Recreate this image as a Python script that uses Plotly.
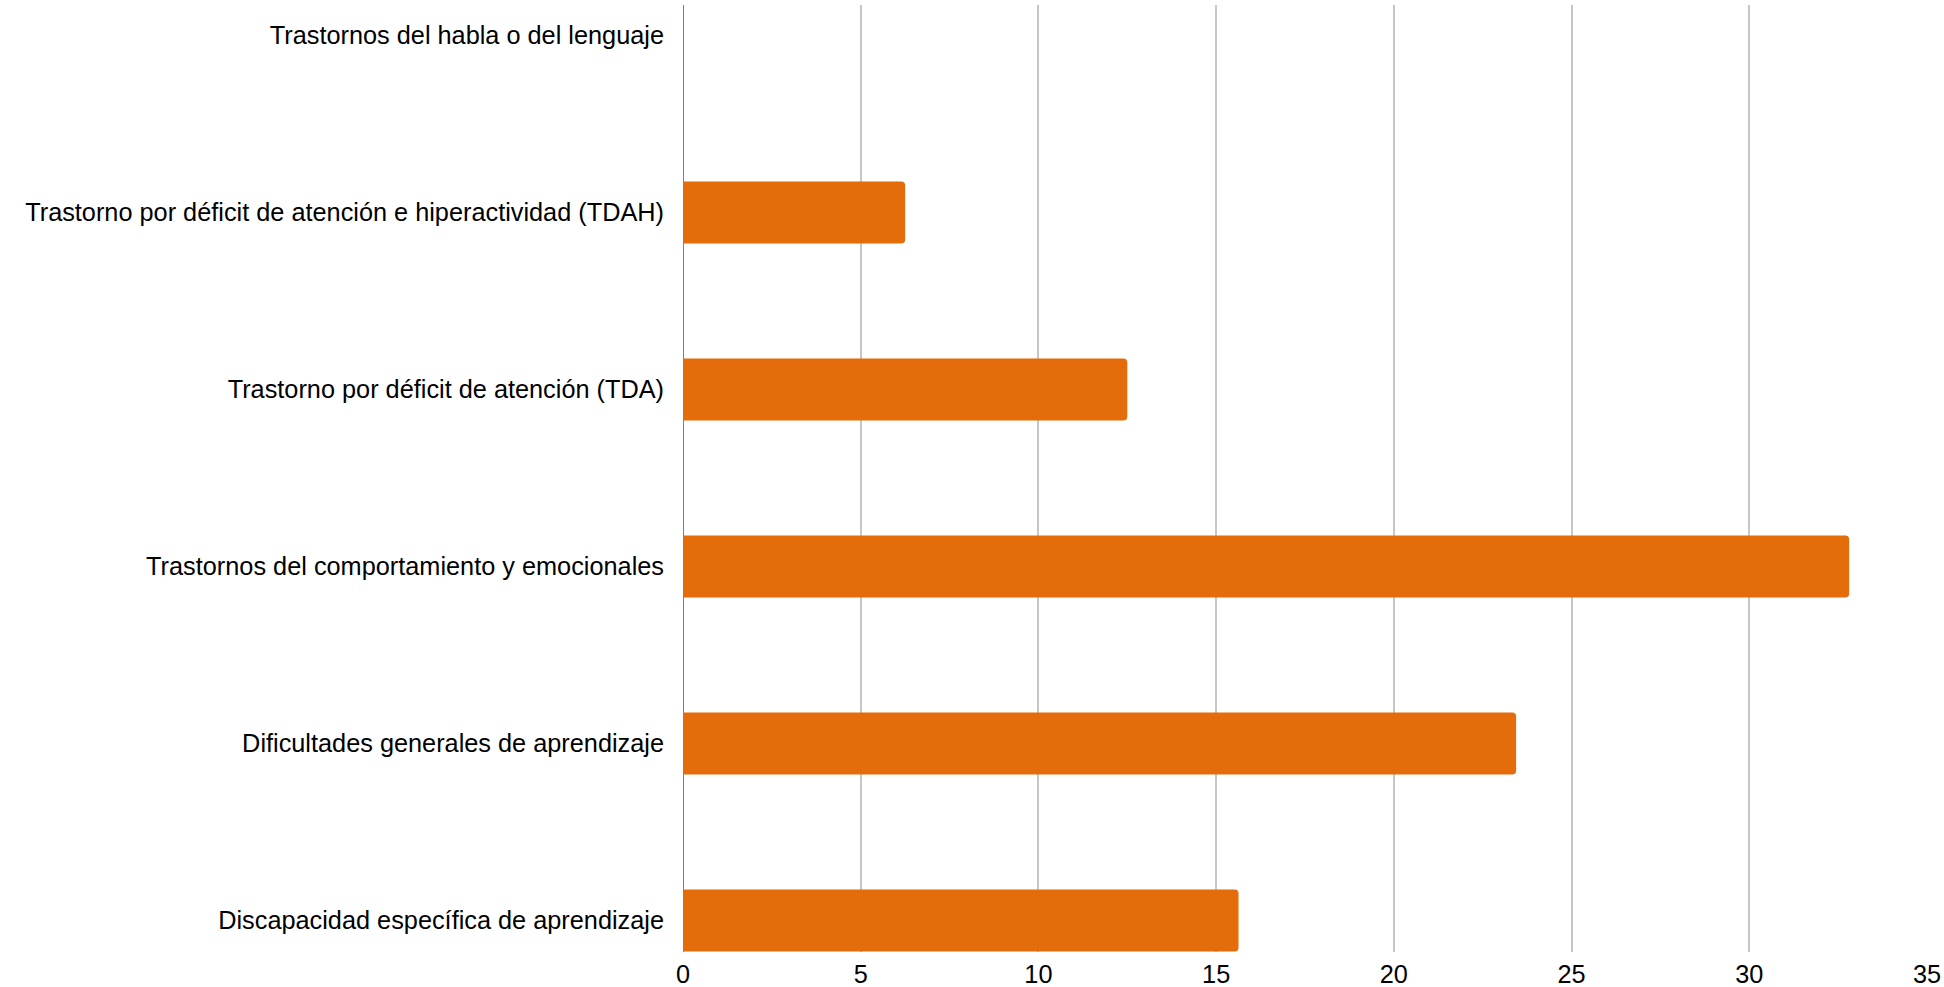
import plotly.graph_objects as go

categories = [
    "Discapacidad específica de aprendizaje",
    "Dificultades generales de aprendizaje",
    "Trastornos del comportamiento y emocionales",
    "Trastorno por déficit de atención (TDA)",
    "Trastorno por déficit de atención e hiperactividad (TDAH)",
    "Trastornos del habla o del lenguaje",
]
values = [15.63, 23.44, 32.81, 12.5, 6.25, 0]
x_ticks = [0, 5, 10, 15, 20, 25, 30, 35]

BAR_COLOR = "#E46C0A"
FONT = "Liberation Sans, Arial, sans-serif"

fig = go.Figure(
    go.Bar(
        y=categories,
        x=values,
        orientation="h",
        marker=dict(color=BAR_COLOR, line=dict(width=0)),
        width=0.35,
        hoverinfo="x+y",
    )
)

fig.update_layout(
    width=1944,
    height=987,
    margin=dict(l=683, r=17, t=5, b=35, pad=0, autoexpand=False),
    paper_bgcolor="white",
    plot_bgcolor="white",
    font=dict(family=FONT, size=25.3, color="black"),
    showlegend=False,
    barcornerradius=4,
)

fig.update_xaxes(
    range=[0, 35],
    tickvals=x_ticks,
    ticktext=[str(v) for v in x_ticks],
    showgrid=True,
    gridcolor="#c6c6c6",
    gridwidth=1.5,
    zeroline=True,
    zerolinecolor="#7f7f7f",
    zerolinewidth=1,
    showline=False,
    ticks="",
    automargin=False,
    ticklabelstandoff=5,
    tickfont=dict(family=FONT, size=25.3, color="black"),
)

fig.update_yaxes(
    type="category",
    categoryorder="array",
    categoryarray=categories,
    range=[-0.178, 5.172],
    showgrid=False,
    zeroline=False,
    showline=False,
    ticks="",
    automargin=False,
    ticklabelstandoff=18,
    tickfont=dict(family=FONT, size=25.3, color="black"),
)

fig.write_html(
    "out.html",
    config={"displayModeBar": False, "responsive": False},
    post_script="document.body.style.margin='0';document.body.style.overflow='hidden';",
)
